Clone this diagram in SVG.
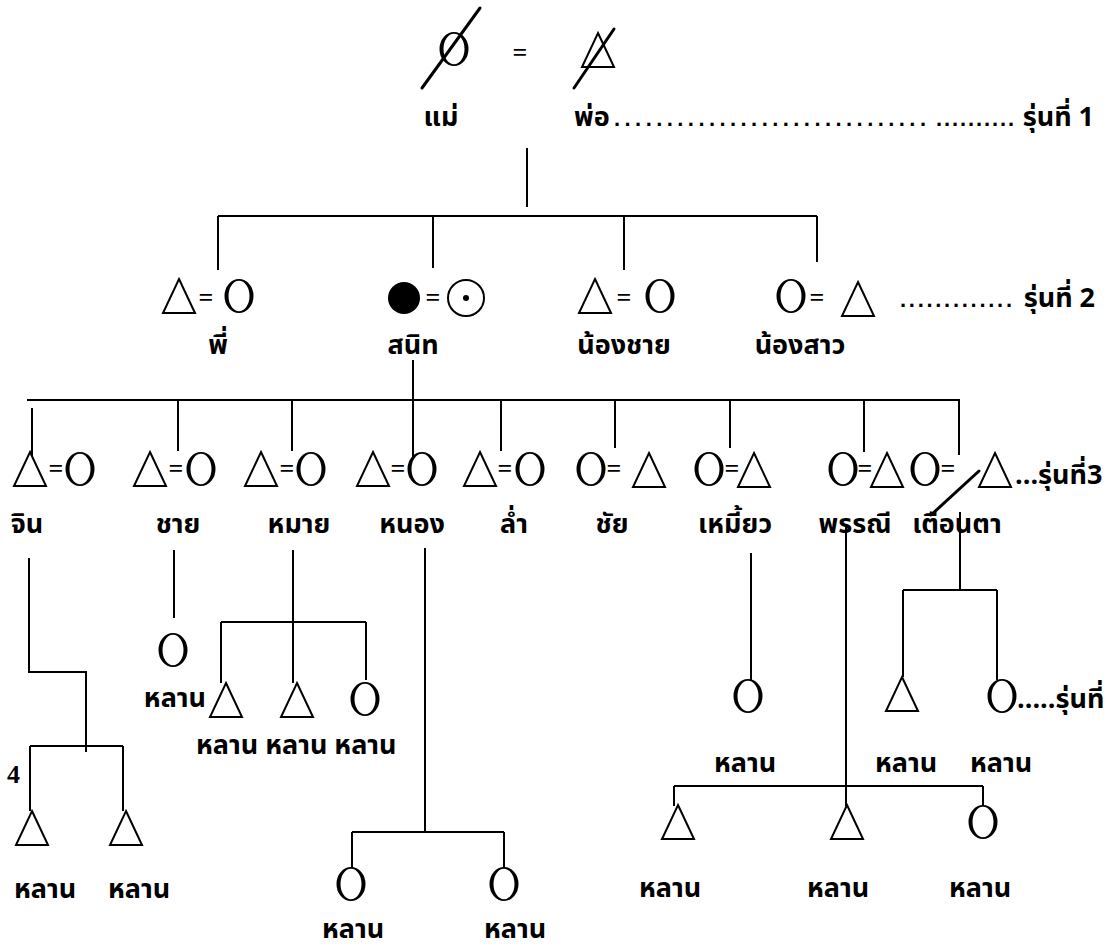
<svg xmlns="http://www.w3.org/2000/svg" xmlns:xlink="http://www.w3.org/1999/xlink" width="1119" height="950" viewBox="0 0 1119 950">
<style>
.ln{stroke:#000;stroke-width:2;fill:none}
.sl{stroke:#000;stroke-width:3;fill:none;stroke-linecap:round}
.tri{fill:#fff;stroke:#000;stroke-width:2}
.cir{fill:#000;fill-rule:evenodd;stroke:none}
.lbl{font-family:"Noto Sans Thai","Noto Sans","DejaVu Sans",sans-serif;font-weight:bold;font-size:27px;text-anchor:middle;fill:#000}
.st{text-anchor:start}
.en{text-anchor:end}
.eq{font-family:"Liberation Serif",serif;font-weight:bold;font-size:26px;text-anchor:middle;fill:#000}
.num{font-family:"Liberation Serif",serif;font-weight:bold;font-size:26px;fill:#000}
.dots{font-family:"Liberation Sans",sans-serif;font-weight:bold;font-size:22px;fill:#000}
</style>
<defs>
<path id="tri" d="M0,-17 L16,17 L-16,17 Z"/>
<path id="cir" d="M-14.5,0 a14.5,17 0 1,0 29,0 a14.5,17 0 1,0 -29,0 Z M-10.5,0 a10.5,15.3 0 1,0 21,0 a10.5,15.3 0 1,0 -21,0 Z"/>
</defs>
<rect width="1119" height="950" fill="#fff"/>

<g id="connectors">
<path class="ln" d="M527,148 V207"/>
<path class="ln" d="M218,216 H817 M218,216 V270 M433,216 V268 M624,216 V270 M817,216 V262"/>
<path class="ln" d="M413,360 V457"/>
<path class="ln" d="M27,400 H960 M32,408 V462 M178,400 V451 M292,400 V451 M501,400 V451 M615,400 V448 M730,400 V448 M864,400 V452 M959,400 V455"/>
<path class="ln" d="M29,558 V672 H86 V752 M30,746 H123 M30,746 V811 M123,746 V811"/>
<path class="ln" d="M174,550 V618"/>
<path class="ln" d="M293,550 V622 M221,622 H366 M221,622 V683 M293,622 V683 M366,622 V680"/>
<path class="ln" d="M425,548 V832 M352,832 H504 M352,832 V868 M504,832 V868"/>
<path class="ln" d="M751,553 V680"/>
<path class="ln" d="M846,525 V806 M674,786 H983 M674,786 V806 M983,786 V806"/>
<path class="ln" d="M960,512 V590 M903,590 H997 M903,590 V677 M997,590 V680"/>
</g>

<g id="gen1">
<use href="#cir" x="454" y="49" class="cir"/>
<path class="sl" d="M422,88 L480,8"/>
<text class="eq" x="520" y="61">=</text>
<use href="#tri" x="598" y="50" class="tri"/>
<path class="sl" d="M574,88 L614,29"/>
<text class="lbl" x="441" y="126">แม่</text>
<text class="lbl st" x="574" y="126">พ่อ</text>
<text class="dots" x="614" y="126" textLength="312" lengthAdjust="spacing">..............................</text>
<text class="dots" x="936" y="126" textLength="78" lengthAdjust="spacing">..........</text>
<text class="lbl en" x="1094" y="126">รุ่นที่ 1</text>
</g>

<g id="gen2">
<g id="couple-phi">
<use href="#tri" x="179" y="296" class="tri"/>
<text class="eq" x="206" y="306">=</text>
<use href="#cir" x="239" y="296" class="cir"/>
<text class="lbl" x="218" y="354">พี่</text>
</g>
<g id="couple-sanit">
<circle cx="404" cy="298" r="16" fill="#000"/>
<text class="eq" x="433" y="306">=</text>
<circle cx="466" cy="298" r="18" fill="none" stroke="#000" stroke-width="2"/>
<circle cx="466" cy="298" r="3" fill="#000"/>
<text class="lbl" x="413" y="354">สนิท</text>
</g>
<g id="couple-nongchai">
<use href="#tri" x="595" y="296" class="tri"/>
<text class="eq" x="624" y="306">=</text>
<use href="#cir" x="660" y="296" class="cir"/>
<text class="lbl" x="624" y="354">น้องชาย</text>
</g>
<g id="couple-nongsao">
<use href="#cir" x="791" y="296" class="cir"/>
<text class="eq" x="817" y="306">=</text>
<use href="#tri" x="858" y="299" class="tri"/>
<text class="lbl" x="800" y="354">น้องสาว</text>
</g>
<text class="dots" x="900" y="307" textLength="112" lengthAdjust="spacing">.............</text>
<text class="lbl en" x="1095" y="307">รุ่นที่ 2</text>
</g>

<g id="gen3">
<g id="c-jin"><use href="#tri" x="30" y="469" class="tri"/><text class="eq" x="56" y="477">=</text><use href="#cir" x="80" y="469" class="cir"/><text class="lbl" x="27" y="533">จิน</text></g>
<g id="c-chai"><use href="#tri" x="150" y="469" class="tri"/><text class="eq" x="176" y="477">=</text><use href="#cir" x="201" y="469" class="cir"/><text class="lbl" x="178" y="533">ชาย</text></g>
<g id="c-mai"><use href="#tri" x="261" y="469" class="tri"/><text class="eq" x="287" y="477">=</text><use href="#cir" x="311" y="469" class="cir"/><text class="lbl" x="299" y="533">หมาย</text></g>
<g id="c-nong"><use href="#tri" x="373" y="469" class="tri"/><text class="eq" x="398" y="477">=</text><use href="#cir" x="422" y="469" class="cir"/><text class="lbl" x="412" y="533">หนอง</text></g>
<g id="c-lam"><use href="#tri" x="480" y="469" class="tri"/><text class="eq" x="505" y="477">=</text><use href="#cir" x="530" y="469" class="cir"/><text class="lbl" x="514" y="533">ล่ำ</text></g>
<g id="c-chai2"><use href="#cir" x="591" y="469" class="cir"/><text class="eq" x="614" y="477">=</text><use href="#tri" x="649" y="470" class="tri"/><text class="lbl" x="612" y="533">ชัย</text></g>
<g id="c-miew"><use href="#cir" x="709" y="469" class="cir"/><text class="eq" x="732" y="477">=</text><use href="#tri" x="754" y="470" class="tri"/><text class="lbl" x="735" y="533">เหมี้ยว</text></g>
<g id="c-phanni"><use href="#cir" x="843" y="469" class="cir"/><text class="eq" x="865" y="477">=</text><use href="#tri" x="887" y="470" class="tri"/><text class="lbl" x="855" y="533">พรรณี</text></g>
<g id="c-tuean"><use href="#cir" x="925" y="469" class="cir"/><text class="eq" x="948" y="477">=</text><path class="sl" d="M931,515 L979,471"/><use href="#tri" x="995" y="470" class="tri"/><text class="lbl" x="957" y="533">เตือนตา</text></g>
<text class="lbl st" x="1015" y="484">...รุ่นที่3</text>
</g>

<g id="gen4">
<g id="k-jin">
<text class="num" x="7" y="783">4</text>
<use href="#tri" x="32" y="828" class="tri"/>
<use href="#tri" x="126" y="828" class="tri"/>
<text class="lbl" x="45" y="898">หลาน</text>
<text class="lbl" x="139" y="898">หลาน</text>
</g>
<g id="k-chai">
<use href="#cir" x="173" y="650" class="cir"/>
</g>
<g id="k-mai">
<text class="lbl en" x="206" y="707">หลาน</text>
<use href="#tri" x="226" y="700" class="tri"/>
<use href="#tri" x="297" y="700" class="tri"/>
<use href="#cir" x="365" y="699" class="cir"/>
<text class="lbl st" x="196" y="754">หลาน หลาน หลาน</text>
</g>
<g id="k-nong">
<use href="#cir" x="351" y="884" class="cir"/>
<use href="#cir" x="504" y="884" class="cir"/>
<text class="lbl" x="353" y="938">หลาน</text>
<text class="lbl" x="515" y="938">หลาน</text>
</g>
<g id="k-miew">
<use href="#cir" x="748" y="696" class="cir"/>
<text class="lbl" x="745" y="772">หลาน</text>
</g>
<g id="k-tuean">
<use href="#tri" x="902" y="694" class="tri"/>
<use href="#cir" x="1002" y="696" class="cir"/>
<text class="lbl st" x="1017" y="708">.....รุ่นที่</text>
<text class="lbl" x="906" y="772">หลาน</text>
<text class="lbl" x="1001" y="772">หลาน</text>
</g>
<g id="k-phanni">
<use href="#tri" x="678" y="822" class="tri"/>
<use href="#tri" x="847" y="822" class="tri"/>
<use href="#cir" x="983" y="822" class="cir"/>
<text class="lbl" x="670" y="897">หลาน</text>
<text class="lbl" x="838" y="897">หลาน</text>
<text class="lbl" x="980" y="897">หลาน</text>
</g>
</g>
</svg>
